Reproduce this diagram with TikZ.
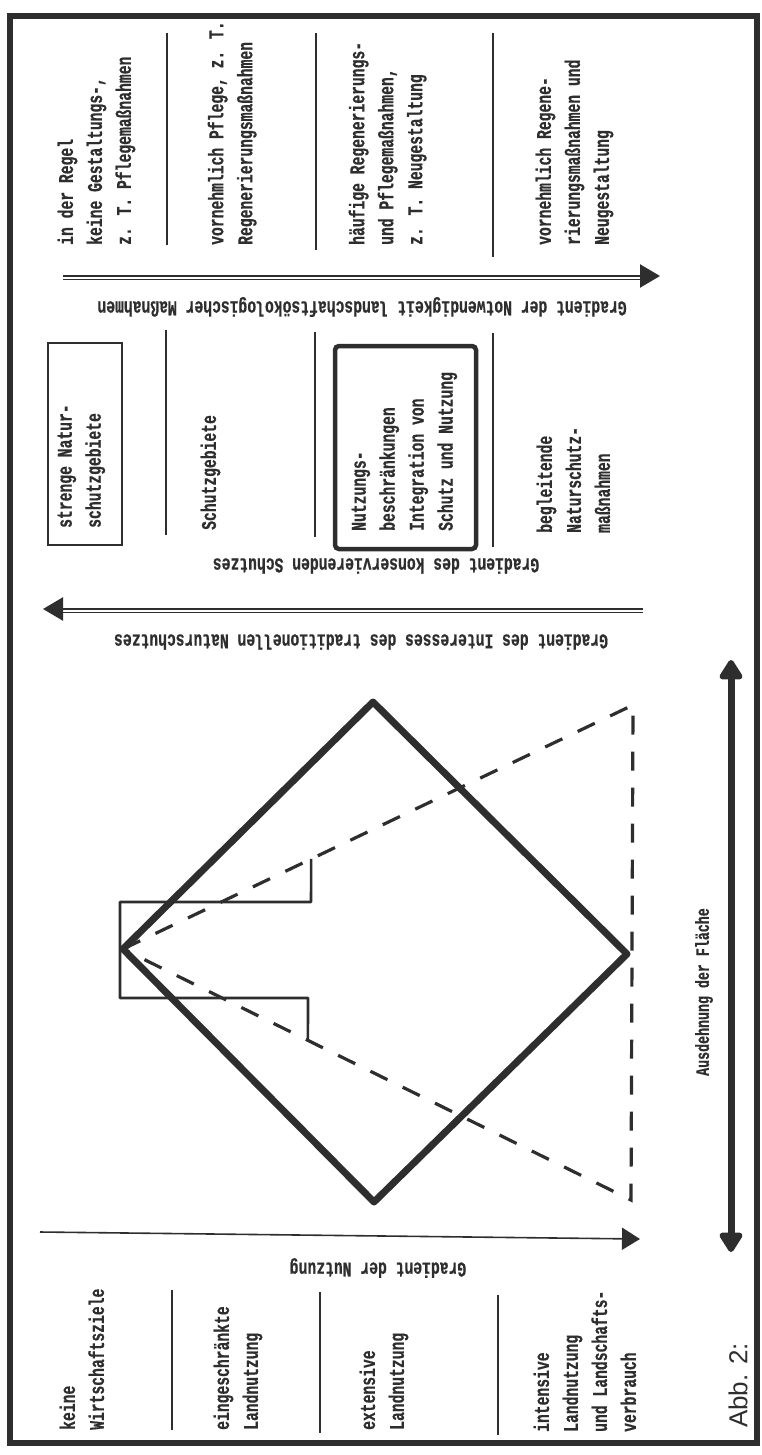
\documentclass[tikz,border=0pt]{standalone}
\usepackage{fontspec}
\newfontfamily\typer{Liberation Mono}[FakeStretch=0.7,FakeBold=0.6]
\newfontfamily\capsans{Liberation Sans}
\usetikzlibrary{arrows.meta,calc}
\definecolor{ink}{HTML}{2E2E2E}

\begin{document}
\begin{tikzpicture}[x=1pt,y=-1pt,
    every node/.style={text=ink,inner sep=0pt},
    col/.style={rotate=90,anchor=north west,align=left,
      font=\typer\bfseries\fontsize{21}{29}\selectfont},
    grad/.style={rotate=180,font=\typer\bfseries\fontsize{21}{25}\selectfont},
    sep/.style={draw=ink,line width=1.6pt},
    shaft/.style={draw=ink,line width=2.4pt,-{Triangle[length=20pt,width=23pt]}},
    hair/.style={draw=ink,line width=1.2pt},
    dashline/.style={draw=ink,line width=3.2pt,dash pattern=on 19pt off 17pt}]
  \useasboundingbox (0,0) rectangle (762,1455);
  \draw[line width=5.5pt,draw=ink] (10,16) rectangle (757,1443);

  % Massnahmen
  \node[col] (m_1) at (57.5,245) {in der Regel\\keine Gestaltungs-,\\z. T. Pflegemaßnahmen};
  \node[col] (m_2) at (207.5,245) {vornehmlich Pflege, z. T.\\Regenerierungsmaßnahmen};
  \node[col] (m_3) at (348.5,245) {häufige Regenerierungs-\\und Pflegemaßnahmen,\\z. T. Neugestaltung};
  \node[col] (m_4) at (535.5,245) {vornehmlich Regene-\\rierungsmaßnahmen und\\Neugestaltung};
  \foreach \x/\b in {167/245,316/250,493/257}
    \draw[sep] (\x,33) -- (\x,\b);

  \coordinate (g_1a) at (63,276);
  \coordinate (g_1b) at (660,276);
  \draw[shaft] (g_1a) -- (g_1b);
  \draw[hair] ([yshift=-3.5pt]g_1a) -- ([yshift=-3.5pt,xshift=-16pt]g_1b);
  \node[grad] (l_need) at (362,307) {Gradient der Notwendigkeit landschaftsökologischer Maßnahmen};

  % Schutz
  \draw[draw=ink,line width=2.2pt] (48,343) rectangle (122,545);
  \draw[draw=ink,line width=4.5pt,rounded corners=4pt] (335,346) rectangle (476,549);
  \node[col] (s_1) at (57.5,528) {strenge Natur-\\schutzgebiete};
  \node[col] (s_2) at (200.5,530) {Schutzgebiete};
  \node[col] (s_3) at (351.5,531) {Nutzungs-\\beschränkungen\\Integration von\\Schutz und Nutzung};
  \node[col] (s_4) at (536.5,533) {begleitende\\Naturschutz-\\maßnahmen};
  \foreach \x/\a/\b in {166/330/535,315/332/537,493/333/547}
    \draw[sep] (\x,\a) -- (\x,\b);
  \node[grad] (l_cons) at (376,566) {Gradient des konservierenden Schutzes};

  \coordinate (g_2a) at (643,609);
  \coordinate (g_2b) at (43,609);
  \draw[shaft] (g_2a) -- (g_2b);
  \draw[hair] ([yshift=-3.5pt]g_2a) -- ([yshift=-3.5pt,xshift=16pt]g_2b);
  \node[grad] (l_trad) at (361,642) {Gradient des Interesses des traditionellen Naturschutzes};

  % Flaechen
  \coordinate (d_top) at (373,702);
  \coordinate (d_right) at (627,954);
  \coordinate (d_bot) at (374,1202);
  \coordinate (d_left) at (123,949);
  \coordinate (t_up) at (633,705);
  \coordinate (t_low) at (631,1200);
  \draw[dashline] (d_left) -- (t_up) -- (t_low) -- cycle;
  \draw[draw=ink,line width=2.6pt,line join=round]
    ($(d_left)!0.369!(t_up)$) -- (311,902) -- (120,902) -- (120,998)
    -- (308,998) -- ($(d_left)!0.364!(t_low)$);
  \draw[draw=ink,line width=7pt,line join=round]
    (d_top) -- (d_right) -- (d_bot) -- (d_left) -- cycle;

  \coordinate (a_top) at (731,660);
  \coordinate (a_bot) at (731,1252);
  \draw[draw=ink,line width=7pt,
    {Triangle[round,length=22pt,width=26pt]}-{Triangle[round,length=22pt,width=26pt]}]
    (a_top) -- (a_bot);
  \node[rotate=90,font=\typer\bfseries\fontsize{19}{23}\selectfont] (l_area) at (704,992) {Ausdehnung der Fläche};

  % Nutzung
  \coordinate (g_3a) at (40,1232);
  \coordinate (g_3b) at (640,1239);
  \draw[draw=ink,line width=1.6pt,-{Triangle[length=18pt,width=22pt]}] (g_3a) -- (g_3b);
  \node[grad] (l_use) at (378,1268) {Gradient der Nutzung};

  \node[col] (n_1) at (59.5,1430) {keine\\Wirtschaftsziele};
  \node[col] (n_2) at (213.5,1430) {eingeschränkte\\Landnutzung};
  \node[col] (n_3) at (359.5,1430) {extensive\\Landnutzung};
  \node[col] (n_4) at (533.5,1432) {intensive\\Landnutzung\\und Landschafts-\\verbrauch};
  \foreach \x/\a/\b in {172/1290/1430,320/1292/1433,498/1295/1435}
    \draw[sep] (\x,\a) -- (\x,\b);
  \node[rotate=90,anchor=west,font=\capsans\fontsize{26}{30}\selectfont] (fig) at (738,1428) {Abb. 2:};
\end{tikzpicture}
\end{document}
